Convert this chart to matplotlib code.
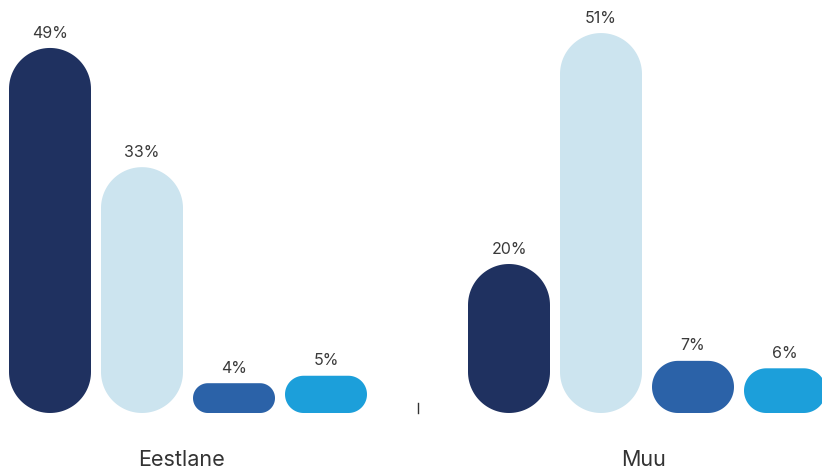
import numpy as np
import matplotlib.pyplot as plt
from matplotlib.patches import Polygon

# data
groups = ["Eestlane", "Muu"]
series_colors = ["#1f3160", "#cce4ef", "#2b62a8", "#1c9fda"]
values = [
    [49, 33, 4, 5],
    [20, 51, 7, 6],
]

plt.rcParams["font.family"] = ["Inter", "DejaVu Sans"]

W, H = 822, 469
fig = plt.figure(figsize=(W / 100, H / 100), dpi=100)
ax = fig.add_axes([0, 0, 1, 1])
fig.patch.set_facecolor("white")
ax.set_facecolor("white")

# layout in axes units: one group step = 459 px, one percent = 7.45 px
group_px = 459.0
pct_px = 7.45
x0_px = 188.0
base_px = 56.0
ax.set_xlim(-x0_px / group_px, (W - x0_px) / group_px)
ax.set_ylim(-base_px / pct_px, (H - base_px) / pct_px)
ax.axis("off")

bar_w = 82 / group_px
pitch = 92 / group_px
aspect = group_px / pct_px  # y data units per x data unit at equal pixels


def pill(left, width, height):
    # rounded bar with circular ends (radius = half of the shorter side, in pixels)
    rx = min(width, height / aspect) / 2
    ry = rx * aspect
    t = np.linspace(0, np.pi / 2, 30)
    pts = []
    # bottom-left, bottom-right, top-right, top-left corners
    for cx, cy, a0 in [(left + rx, ry, np.pi), (left + width - rx, ry, 1.5 * np.pi),
                       (left + width - rx, height - ry, 0), (left + rx, height - ry, 0.5 * np.pi)]:
        ang = a0 + t
        pts.append(np.column_stack([cx + rx * np.cos(ang), cy + ry * np.sin(ang)]))
    return np.vstack(pts)


for gi, group_vals in enumerate(values):
    for si, v in enumerate(group_vals):
        cx = gi + (si - 1.5) * pitch
        poly = Polygon(pill(cx - bar_w / 2, bar_w, v), closed=True,
                       facecolor=series_colors[si], edgecolor="none", zorder=2)
        ax.add_patch(poly)
        ax.text(cx, v + 1.0, f"{v}%", ha="center", va="bottom",
                fontsize=11.5, color="#3a3a3a")

    ax.text(gi - 7 / group_px + (4 / group_px if gi else 0), -6.3, groups[gi],
            ha="center", va="center", fontsize=15.5, color="#333333")

# small separator tick between the groups
ax.plot([0.5, 0.5], [0, 10 / pct_px], color="#333333", linewidth=1, zorder=1)

fig.savefig("out.png", dpi=100, facecolor="white")
